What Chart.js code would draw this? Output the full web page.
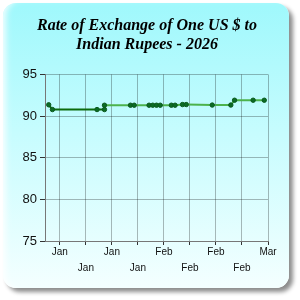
<!DOCTYPE html>
<html>
<head>
<meta charset="utf-8">
<script src="https://cdn.jsdelivr.net/npm/chart.js@4.4.1/dist/chart.umd.min.js"></script>
<style>
    html, body { margin: 0; padding: 0; background: #fff; }
    #wrap { position: relative; width: 300px; height: 300px; overflow: hidden; }
    #card {
        position: absolute; left: 3px; top: 3px; width: 286px; height: 285px;
        border-radius: 13px;
        background: linear-gradient(to bottom, #9ff8fc 0%, #c6fcfe 45%, #f4ffff 100%);
        box-shadow: 4px 4px 4px rgba(0, 0, 0, 0.45), inset 7px 0 6px -4px rgba(255, 255, 255, 0.85);
    }
    #chart { position: absolute; left: 0; top: 0; }
</style>
</head>
<body>
<div id="wrap">
    <div id="card"></div>
    <canvas id="chart" width="300" height="300"></canvas>
</div>
<script>
// quotes, 2026
const rateDates = ['2026-01-01', '2026-01-02', '2026-01-14', '2026-01-16', '2026-01-16',
    '2026-01-23', '2026-01-24', '2026-01-28', '2026-01-29', '2026-01-30', '2026-01-31',
    '2026-02-03', '2026-02-04', '2026-02-06', '2026-02-07', '2026-02-14', '2026-02-19',
    '2026-02-20', '2026-02-25', '2026-02-28'];
const rateValues = [91.35, 90.78, 90.78, 90.78, 91.3,
    91.3, 91.3, 91.3, 91.3, 91.3, 91.3,
    91.3, 91.3, 91.38, 91.38, 91.32, 91.32,
    91.9, 91.9, 91.9];

const tickDates = ['2026-01-04', '2026-01-11', '2026-01-18', '2026-01-25', '2026-02-01',
    '2026-02-08', '2026-02-15', '2026-02-22', '2026-03-01'];
const tickLabels = ['Jan', 'Jan', 'Jan', 'Jan', 'Feb', 'Feb', 'Feb', 'Feb', 'Mar'];

const yTicks = [75, 80, 85, 90, 95];

function dayOfYear(s) {
    const p = s.split('-').map(Number);
    return (Date.UTC(p[0], p[1] - 1, p[2]) - Date.UTC(2026, 0, 0)) / 86400000;
}

const points = rateDates.map((d, i) => ({ x: dayOfYear(d), y: rateValues[i] }));
const tickDays = tickDates.map(dayOfYear);

// the title is centred on the card, not on the canvas minus the right padding
const titleShift = {
    id: 'titleShift',
    afterLayout(chart) {
        chart.titleBlock.left = 26;
    }
};

new Chart(document.getElementById('chart'), {
    type: 'line',
    data: {
        datasets: [{
            label: 'INR per USD',
            data: points,
            borderWidth: 2,
            borderColor: '#3fa53f',
            segment: {
                borderColor: ctx => ctx.p0DataIndex < 4 ? '#0c6a0c' : '#4cb24c'
            },
            pointRadius: 2.2,
            pointBackgroundColor: '#0b6b25',
            pointBorderColor: '#0a5a1e',
            pointBorderWidth: 1,
            tension: 0
        }]
    },
    options: {
        responsive: false,
        animation: false,
        layout: { padding: { left: 0, right: 32, top: 0, bottom: 0 } },
        plugins: {
            legend: { display: false },
            tooltip: { enabled: false },
            title: {
                display: true,
                text: ['Rate of Exchange of One US $ to', 'Indian Rupees - 2026'],
                color: '#000',
                font: { family: 'Times New Roman', size: 16, weight: 'bold', style: 'italic', lineHeight: 1.2 },
                padding: { top: 16, bottom: 20 }
            }
        },
        scales: {
            x: {
                type: 'linear',
                min: 0,
                max: 60,
                afterBuildTicks: scale => { scale.ticks = tickDays.map(v => ({ value: v })); },
                afterFit: scale => { scale.height = 59; },
                grid: { color: 'rgba(0,0,0,0.28)', tickColor: '#333', tickLength: 4, lineWidth: 1 },
                border: { color: '#777' },
                ticks: {
                    autoSkip: false,
                    maxRotation: 0,
                    padding: -1,
                    color: '#111',
                    font: { family: "'Liberation Sans', sans-serif", size: 10, lineHeight: 1.6 },
                    callback: (v, i) => i % 2 ? ['', tickLabels[i]] : tickLabels[i]
                }
            },
            y: {
                min: 75,
                max: 95,
                afterBuildTicks: scale => { scale.ticks = yTicks.map(v => ({ value: v })); },
                afterFit: scale => { scale.width = 45; },
                grid: { color: 'rgba(0,0,0,0.28)', tickColor: '#333', tickLength: 5, lineWidth: 1 },
                border: { color: '#777' },
                ticks: {
                    padding: 3,
                    color: '#111',
                    font: { family: "'Liberation Sans', sans-serif", size: 13 }
                }
            }
        }
    },
    plugins: [titleShift]
});
</script>
</body>
</html>
